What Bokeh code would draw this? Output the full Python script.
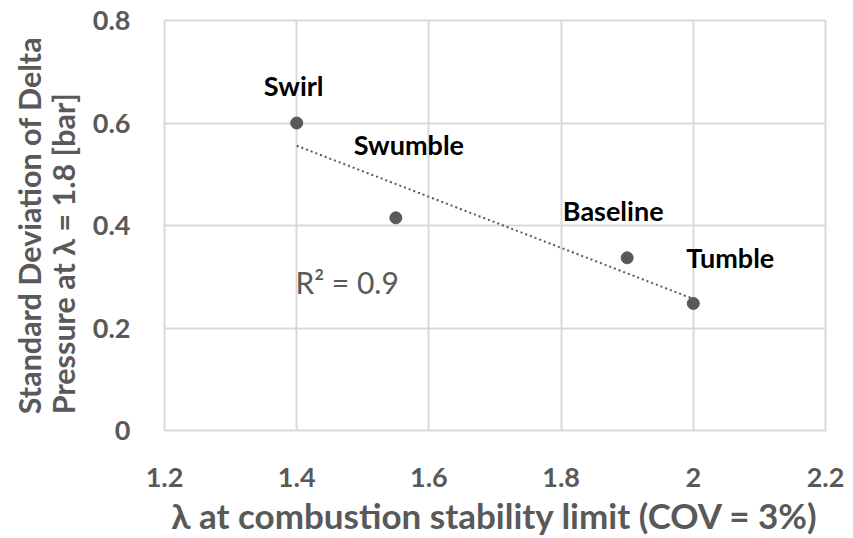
import numpy as np
from bokeh.plotting import figure
from bokeh.models import ColumnDataSource, FixedTicker, Label, Title
from bokeh.core.properties import value
from bokeh.embed import file_html
from bokeh.resources import INLINE

# Combustion stability limit vs. std. deviation of delta pressure
configs = ["Swirl", "Swumble", "Baseline", "Tumble"]
lambda_limit = [1.4, 1.55, 1.9, 2.0]
std_dp = [0.60, 0.415, 0.337, 0.248]

x_ticks = [1.2, 1.4, 1.6, 1.8, 2.0, 2.2]
x_tick_labels = ["1.2", "1.4", "1.6", "1.8", "2", "2.2"]
y_ticks = [0, 0.2, 0.4, 0.6, 0.8]
y_tick_labels = ["0", "0.2", "0.4", "0.6", "0.8"]
x_title = "λ at combustion stability limit (COV = 3%)"
y_title = ["Standard Deviation of Delta", "Pressure at λ = 1.8 [bar]"]

# label offsets (screen px) relative to each marker
label_dx = [-3, 13, -14, 37]
label_dy = [-38, -73, -47, -46]

GRAY = "#595959"
GRID = "#d9d9d9"
FONT = "Lato"

p = figure(width=853, height=538, x_range=(1.2, 2.2), y_range=(0, 0.8),
           output_backend="svg", toolbar_location=None,
           min_border_left=163, min_border_right=28,
           min_border_top=20, min_border_bottom=106)
p.background_fill_color = "white"
p.border_fill_color = "white"
p.outline_line_color = GRID
p.outline_line_width = 2

for ax in (p.xaxis[0], p.yaxis[0]):
    ax.axis_line_color = None
    ax.major_tick_line_color = None
    ax.minor_tick_line_color = None
    ax.major_tick_out = 0
    ax.major_tick_in = 0
    ax.minor_tick_out = 0
    ax.minor_tick_in = 0
    ax.major_label_text_font = FONT
    ax.major_label_text_font_style = "bold"
    ax.major_label_text_font_size = "27px"
    ax.major_label_text_color = GRAY
    ax.axis_label_text_font = FONT
    ax.axis_label_text_font_style = "bold"
    ax.axis_label_text_color = GRAY

p.xaxis.axis_label_text_font_size = "35px"

p.xaxis.ticker = FixedTicker(ticks=x_ticks)
p.xaxis.major_label_overrides = {t: s for t, s in zip(x_ticks, x_tick_labels)}
p.yaxis.ticker = FixedTicker(ticks=y_ticks)
p.yaxis.major_label_overrides = {t: s for t, s in zip(y_ticks, y_tick_labels)}
p.xaxis.major_label_standoff = 37
p.yaxis.major_label_standoff = 34
p.xaxis.axis_label = x_title
p.xaxis.axis_label_standoff = 4

# two-line y title beside the y axis
p.add_layout(Title(text="\n".join(y_title), align="center", standoff=17,
                   text_font=FONT, text_font_style="bold",
                   text_font_size="30.5px", text_line_height=0.95,
                   text_color=GRAY), "left")

p.xgrid.grid_line_color = GRID
p.ygrid.grid_line_color = GRID
p.xgrid.grid_line_width = 2
p.ygrid.grid_line_width = 2

# linear trendline through the points
xa = np.array(lambda_limit)
ya = np.array(std_dp)
slope, intercept = np.polyfit(xa, ya, 1)
r2 = np.corrcoef(xa, ya)[0, 1] ** 2
tx = [xa.min(), xa.max()]
p.line(tx, [slope * v + intercept for v in tx], line_color=GRAY,
       line_width=2, line_dash="2 3")

src = ColumnDataSource(dict(x=lambda_limit, y=std_dp, name=configs,
                            dx=label_dx, dy=label_dy))
p.scatter("x", "y", source=src, size=12, fill_color=GRAY, line_color=GRAY)
p.text("x", "y", text="name", source=src, x_offset="dx", y_offset="dy",
       text_font=value(FONT), text_font_style="bold", text_font_size="27px",
       text_color="black", text_align="center", text_baseline="middle")

p.add_layout(Label(x=1.398, y=0.29, text=f"R² = {r2:.1f}", text_font=FONT,
                   text_font_size="30px", text_color=GRAY,
                   text_align="left", text_baseline="middle"))

open("out.html", "w").write(file_html(p, INLINE))
